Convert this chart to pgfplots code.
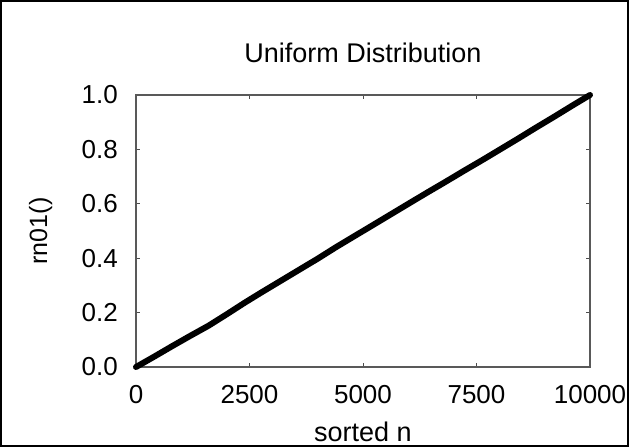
\documentclass[border=0pt]{standalone}
\usepackage{fontspec}
\setmainfont{Liberation Sans}
\usepackage{pgfplots}
\pgfplotsset{compat=1.18}
\begin{document}
\begin{tikzpicture}
\useasboundingbox (0,0) rectangle (629pt,447pt);
% outer frame of the figure
\draw[line width=2pt] (1pt,1pt) rectangle (628pt,446pt);
\begin{axis}[
  at={(136pt,80pt)}, anchor=south west,
  scale only axis, width=454pt, height=272pt,
  xmin=0, xmax=10000, ymin=0, ymax=1,
  xtick={0,2500,5000,7500,10000},
  ytick={0,0.2,0.4,0.6,0.8,1.0},
  scaled x ticks=false,
  tick align=inside, major tick length=4pt,
  tick style={black!70, line width=1pt},
  axis line style={black!65, line width=1.3pt},
  clip=false,
  /pgf/number format/assume math mode=true,
  ticklabel style={font=\fontsize{26}{30}\selectfont},
  xticklabel style={anchor=base, yshift=-36pt, /pgf/number format/1000 sep={}},
  yticklabel style={anchor=east, inner sep=0pt, xshift=-18pt,
    /pgf/number format/.cd, fixed, fixed zerofill, precision=1},
  title={Uniform Distribution},
  every axis title shift=0pt,
  title style={at={(axis description cs:0.5,1)}, anchor=base, yshift=32pt,
    font=\fontsize{27}{32}\selectfont},
  xlabel={sorted n},
  xlabel style={at={(axis description cs:0.5,0)}, anchor=base, yshift=-74pt,
    font=\fontsize{27}{32}\selectfont},
  ylabel={rn01()},
  ylabel style={at={(axis description cs:-0.196,0.5)}, anchor=base,
    font=\fontsize{25}{30}\selectfont},
]
% sorted uniform samples
\addplot[black, line width=6pt, line join=round, line cap=round] coordinates {
  (0,0.000) (400,0.038) (800,0.077) (1200,0.115) (1600,0.152)
  (2000,0.194) (2400,0.237) (2800,0.278) (3200,0.318) (3600,0.358)
  (4000,0.398) (4400,0.440) (4800,0.480) (5200,0.520) (5600,0.560)
  (6000,0.600) (6400,0.640) (6800,0.679) (7200,0.719) (7600,0.758)
  (8000,0.798) (8400,0.838) (8800,0.879) (9200,0.919) (9600,0.960)
  (10000,1.000)
};
\end{axis}
\end{tikzpicture}
\end{document}
